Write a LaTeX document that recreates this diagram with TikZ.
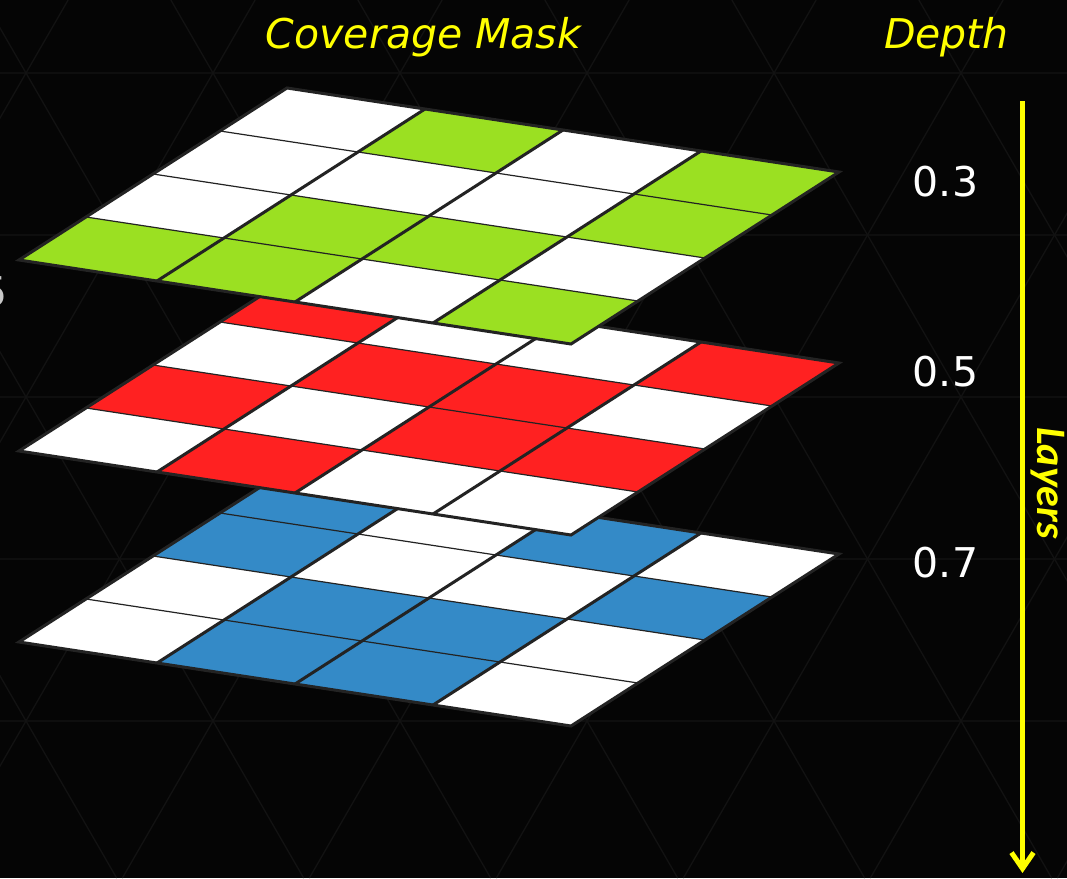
\documentclass[tikz,border=0pt]{standalone}
\usepackage{fontspec}
\setmainfont{DejaVu Sans}
\newfontfamily\layerfont{Carlito}
\usetikzlibrary{arrows.meta}

\definecolor{bgblack}{HTML}{050505}
\definecolor{trigrey}{HTML}{121212}
\definecolor{trirow}{HTML}{0E0E0E}
\definecolor{gridline}{HTML}{232323}
\definecolor{maskgreen}{HTML}{9BE022}
\definecolor{maskred}{HTML}{FF2121}
\definecolor{maskblue}{HTML}{348AC7}
\definecolor{headyellow}{HTML}{FFFF00}
\definecolor{cutgrey}{HTML}{C8C8C8}

\tikzset{
  heading/.style={text=headyellow, font=\fontsize{41}{41}\selectfont\itshape, anchor=base, inner sep=0pt},
  depthval/.style={text=white, font=\fontsize{41}{41}\selectfont, anchor=base, inner sep=0pt},
  triline/.style={draw=trigrey, line width=1.3pt},
  trihoriz/.style={draw=trirow, line width=1.3pt},
  thinrow/.style={draw=gridline, line width=1.2pt},
  thickcol/.style={draw=gridline, line width=3pt},
  maskedge/.style={draw=gridline, line width=3pt, line join=miter},
}

% one mask layer: #1 vertical offset, #2 colour, #3 covered cells u/v
\newcommand{\masklayer}[3]{%
  \begin{scope}[shift={(19,{260+#1})}, x={(138pt,-21pt)}, y={(67pt,43pt)}]
    \fill[white] (0,0) -- (4,0) -- (4,4) -- (0,4) -- cycle;
    \foreach \cu/\cv in {#3}
      \fill[#2] (\cu,\cv) -- ++(1,0) -- ++(0,1) -- ++(-1,0) -- cycle;
    \foreach \cv in {1,2,3}
      \draw[thinrow] (0,\cv) -- (4,\cv);
    \foreach \cu in {1,2,3}
      \draw[thickcol] (\cu,0) -- (\cu,4);
    \draw[maskedge] (0,0) -- (4,0) -- (4,4) -- (0,4) -- cycle;
  \end{scope}}

\begin{document}
\begin{tikzpicture}[x=1pt, y=-1pt]
  \useasboundingbox (0,0) rectangle (1067,878);
  \fill[bgblack] (0,0) rectangle (1067,878);

  % faint triangle pattern behind
  \begin{scope}
    \clip (0,0) rectangle (1067,878);
    \foreach \k in {0,...,5}
      \draw[trihoriz] (0,{73+162*\k}) -- (1067,{73+162*\k});
    \foreach \j in {-3,...,9} {
      \draw[triline] ({26+187*\j-73*0.5772},0) -- ++({878*0.5772},878);
      \draw[triline] ({26+187*\j+73*0.5772},0) -- ++({-878*0.5772},878);
    }
  \end{scope}

  % layers, back to front
  \masklayer{382}{maskblue}{0/2,0/3,1/0,1/1,2/0,2/1,2/3,3/2}
  \masklayer{191}{maskred}{0/1,0/3,1/0,1/2,2/1,2/2,3/1,3/3}
  \masklayer{0}{maskgreen}{0/0,1/0,1/1,1/3,2/1,3/0,3/2,3/3}

  \node[depthval, anchor=base east, text=cutgrey] (cut5) at (8,306) {5};

  \node[heading] (maskhead) at (423.5,48) {Coverage Mask};
  \node[heading] (depthhead) at (946.5,48) {Depth};
  \node[depthval] (d3) at (945.5,196) {0.3};
  \node[depthval] (d5) at (945.5,386) {0.5};
  \node[depthval] (d7) at (945.5,577) {0.7};

  \coordinate (arrtop) at (1022.5,101);
  \coordinate (arrtip) at (1022.5,873);
  \draw[headyellow, line width=5pt, -{Straight Barb[length=16pt,width=22pt]}] (arrtop) -- (arrtip);
  \node[text=headyellow, font=\layerfont\fontsize{42}{42}\selectfont\bfseries\itshape, rotate=-90, inner sep=0pt] (layers) at (1048,483) {Layers};
\end{tikzpicture}
\end{document}
